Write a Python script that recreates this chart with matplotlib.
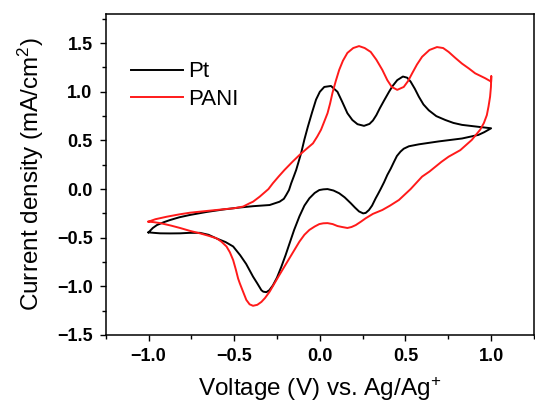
import matplotlib
matplotlib.use("Agg")
import matplotlib.pyplot as plt
from matplotlib.ticker import MultipleLocator

plt.rcParams['font.family'] = ['Liberation Sans', 'DejaVu Sans']
plt.rcParams['mathtext.fontset'] = 'custom'
plt.rcParams['mathtext.rm'] = 'Liberation Sans'
plt.rcParams['mathtext.it'] = 'Liberation Sans'

# Pt electrode: forward scan (upper) then reverse scan (lower)
pt_v = [-1.0, -0.975, -0.951, -0.91, -0.874, -0.82, -0.758, -0.66, -0.564, -0.47,
        -0.39, -0.293, -0.235, -0.21, -0.196, -0.18, -0.167, -0.152, -0.138, -0.109,
        -0.09, -0.07, -0.045, -0.022, 0.0, 0.026, 0.065, 0.103, 0.13, 0.161,
        0.19, 0.22, 0.258, 0.29, 0.31, 0.33, 0.35, 0.375, 0.404, 0.425, 0.452,
        0.485, 0.51, 0.53, 0.555, 0.578, 0.605, 0.636, 0.68, 0.733, 0.78,
        0.83, 0.926, 1.0,
        0.96, 0.926, 0.83, 0.694, 0.578, 0.52, 0.49, 0.471, 0.45, 0.433,
        0.414, 0.394, 0.375, 0.355, 0.34, 0.326, 0.305, 0.287, 0.268, 0.253,
        0.229, 0.205, 0.181, 0.145, 0.113, 0.08, 0.045, 0.02, -0.003, -0.03,
        -0.061, -0.09, -0.119, -0.15, -0.177, -0.2, -0.225, -0.25, -0.274, -0.295,
        -0.312, -0.33, -0.341, -0.365, -0.39, -0.43, -0.465, -0.506, -0.55, -0.6,
        -0.65, -0.7, -0.76, -0.816, -0.874, -0.932, -0.97, -1.0]
pt_j = [-0.445, -0.40, -0.37, -0.34, -0.318, -0.29, -0.266, -0.235, -0.21, -0.19,
        -0.176, -0.164, -0.13, -0.1, -0.06, -0.01, 0.06, 0.13, 0.197, 0.37,
        0.51, 0.64, 0.79, 0.92, 1.0, 1.05, 1.06, 1.0, 0.9, 0.78,
        0.71, 0.667, 0.65, 0.67, 0.705, 0.76, 0.83, 0.91, 1.0, 1.06, 1.12,
        1.157, 1.145, 1.105, 1.03, 0.95, 0.87, 0.81, 0.75, 0.71, 0.68,
        0.66, 0.64, 0.625,
        0.585, 0.557, 0.52, 0.49, 0.46, 0.44, 0.415, 0.385, 0.34, 0.28,
        0.21, 0.145, 0.07, 0.0, -0.05, -0.095, -0.17, -0.215, -0.245, -0.25,
        -0.23, -0.19, -0.146, -0.085, -0.043, -0.015, 0.0, -0.003, -0.01, -0.04,
        -0.095, -0.17, -0.28, -0.42, -0.56, -0.68, -0.80, -0.91, -0.99, -1.04,
        -1.06, -1.055, -1.04, -0.97, -0.90, -0.77, -0.68, -0.59, -0.545, -0.51,
        -0.47, -0.45, -0.45, -0.455, -0.456, -0.455, -0.45, -0.445]

# PANI electrode
pani_v = [-1.0, -0.96, -0.893, -0.82, -0.758, -0.66, -0.564, -0.5, -0.448, -0.41,
          -0.39, -0.351, -0.3, -0.274, -0.24, -0.206, -0.16, -0.119, -0.08, -0.04,
          -0.015, 0.007, 0.025, 0.045, 0.06, 0.074, 0.093, 0.113, 0.135, 0.161,
          0.195, 0.229, 0.262, 0.297, 0.33, 0.365, 0.394, 0.42, 0.452, 0.49,
          0.515, 0.539, 0.567, 0.597, 0.64, 0.684, 0.72, 0.752, 0.79, 0.83,
          0.87, 0.907, 0.965, 1.0, 1.001, 0.999,
          0.994, 0.985, 0.975, 0.958, 0.936, 0.887, 0.82, 0.752, 0.71, 0.675,
          0.64, 0.597, 0.53, 0.462, 0.41, 0.365, 0.31, 0.268, 0.24, 0.21,
          0.185, 0.161, 0.13, 0.103, 0.075, 0.045, 0.02, -0.003, -0.03, -0.061,
          -0.09, -0.119, -0.177, -0.235, -0.265, -0.293, -0.32, -0.341, -0.365, -0.39,
          -0.41, -0.429, -0.447, -0.467, -0.477, -0.49, -0.506, -0.525, -0.545, -0.575,
          -0.603, -0.65, -0.7, -0.758, -0.816, -0.87, -0.932, -0.97, -1.0]
pani_j = [-0.335, -0.31, -0.284, -0.26, -0.243, -0.225, -0.208, -0.197, -0.18, -0.146,
          -0.13, -0.078, 0.0, 0.06, 0.13, 0.197, 0.28, 0.35, 0.41, 0.47,
          0.54, 0.61, 0.69, 0.78, 0.88, 0.99, 1.11, 1.225, 1.32, 1.40,
          1.45, 1.47, 1.45, 1.41, 1.33, 1.225, 1.12, 1.05, 1.02, 1.05,
          1.11, 1.19, 1.28, 1.36, 1.43, 1.46, 1.45, 1.41, 1.35, 1.29,
          1.24, 1.19, 1.14, 1.105, 1.16, 1.05,
          0.95, 0.85, 0.76, 0.68, 0.61, 0.505, 0.40, 0.333, 0.28, 0.23,
          0.18, 0.128, 0.0, -0.112, -0.17, -0.215, -0.255, -0.30, -0.335, -0.37,
          -0.39, -0.40, -0.39, -0.38, -0.36, -0.35, -0.352, -0.36, -0.385, -0.42,
          -0.47, -0.54, -0.71, -0.88, -0.97, -1.055, -1.12, -1.16, -1.19, -1.20,
          -1.185, -1.14, -1.06, -0.97, -0.92, -0.83, -0.73, -0.65, -0.59, -0.54,
          -0.506, -0.48, -0.455, -0.43, -0.40, -0.375, -0.35, -0.34, -0.335]

fig = plt.figure(figsize=(5.35, 4.08), dpi=100)
ax = fig.add_axes([0.1976, 0.179, 0.8004, 0.7867])

ax.plot(pt_v, pt_j, color='black', lw=1.4, label='Pt')
ax.plot(pani_v, pani_j, color='#ff1a1a', lw=1.4, label='PANI')

ax.set_xlim(-1.25, 1.25)
ax.set_ylim(-1.5, 1.8)
ax.xaxis.set_major_locator(MultipleLocator(0.5))
ax.xaxis.set_minor_locator(MultipleLocator(0.25))
ax.yaxis.set_major_locator(MultipleLocator(0.5))
ax.yaxis.set_minor_locator(MultipleLocator(0.25))
ax.tick_params(which='major', direction='out', length=4.5, width=1.0,
               labelsize=13, pad=5)
ax.tick_params(which='minor', direction='out', length=2.8, width=1.0)
for lab in ax.get_xticklabels() + ax.get_yticklabels():
    lab.set_fontweight('bold')
for sp in ax.spines.values():
    sp.set_linewidth(1.1)

ax.set_xlabel(r'Voltage (V) vs. Ag/Ag$^{+}$', fontsize=17.5, labelpad=7)
ax.set_ylabel(r'Current density (mA/cm$^{2}$)', fontsize=17.5, labelpad=8)

ax.legend(loc='upper left', bbox_to_anchor=(0.06, 0.852), frameon=False,
          fontsize=16, handlelength=2.3, handletextpad=0.25, labelspacing=0.3,
          borderpad=0, borderaxespad=0)

fig.savefig('out.png', dpi=100)
